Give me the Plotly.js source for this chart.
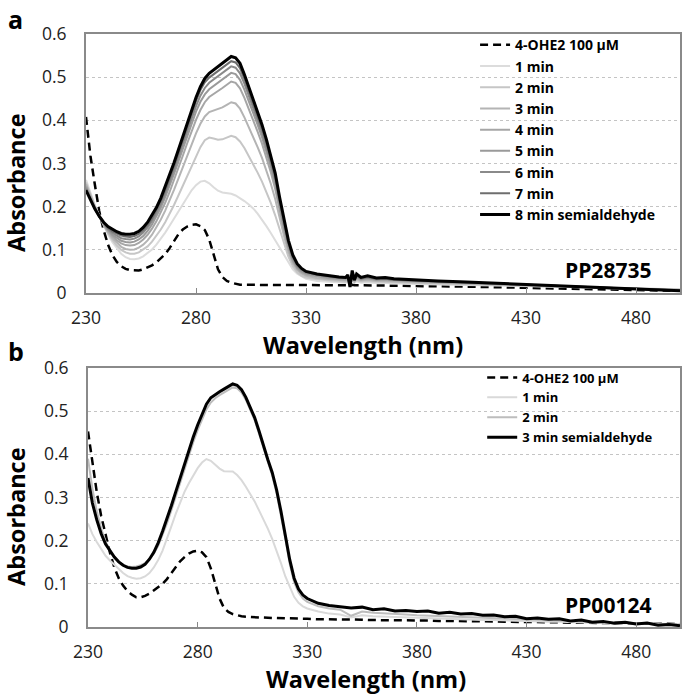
<!DOCTYPE html>
<html>
<head>
<meta charset="utf-8">
<script src="https://cdn.plot.ly/plotly-3.0.1.min.js"></script>
<style>html,body{margin:0;padding:0;background:#fff;}#chart{width:685px;height:697px;}</style>
</head>
<body>
<div id="chart"></div>
<script>
// ---------- Panel a (PP28735) ----------
const waveA = [230,232,234,236,238,240,242,244,246,248,250,252,254,256,258,260,262,264,266,268,270,272,274,276,278,280,282,284,286,288,290,292,294,296,298,300,302,304,306,308,310,312,314,316,318,320,322,324,326,328,330,
  335,340,345,348,349,350,351,352,353,355,358,362,366,370,380,390,400,410,420,430,440,450,460,470,480,490,500];

const a_ohe2 = [0.408,0.318,0.252,0.190,0.146,0.112,0.088,0.072,0.062,0.056,0.053,0.052,0.052,0.055,0.059,0.064,0.071,0.080,0.090,0.104,0.121,0.136,0.147,0.154,0.158,0.159,0.155,0.146,0.124,0.090,0.055,0.037,0.028,0.024,0.021,0.019,0.019,0.019,0.019,0.019,0.019,0.019,0.018,0.018,0.018,0.018,0.018,0.018,0.018,0.018,0.018,
  0.018,0.018,0.018,0.018,0.018,0.017,0.019,0.018,0.018,0.018,0.018,0.017,0.017,0.017,0.016,0.016,0.015,0.014,0.013,0.012,0.011,0.010,0.009,0.008,0.007,0.006,0.005];

const a_1min = [0.262,0.232,0.204,0.179,0.156,0.136,0.118,0.103,0.091,0.083,0.079,0.078,0.080,0.085,0.092,0.101,0.112,0.125,0.140,0.156,0.173,0.190,0.207,0.223,0.238,0.250,0.258,0.260,0.254,0.245,0.237,0.233,0.232,0.230,0.226,0.220,0.213,0.205,0.196,0.184,0.170,0.155,0.139,0.122,0.104,0.086,0.069,0.055,0.045,0.038,0.033,
  0.028,0.026,0.025,0.024,0.026,0.020,0.030,0.024,0.027,0.024,0.025,0.023,0.023,0.022,0.021,0.020,0.019,0.018,0.017,0.016,0.015,0.014,0.013,0.012,0.011,0.010,0.009];

const a_2min = [0.256,0.228,0.202,0.179,0.158,0.139,0.123,0.110,0.100,0.094,0.091,0.091,0.094,0.100,0.108,0.119,0.132,0.147,0.164,0.183,0.204,0.226,0.249,0.273,0.296,0.318,0.338,0.354,0.360,0.358,0.355,0.356,0.360,0.364,0.361,0.351,0.336,0.318,0.299,0.279,0.258,0.235,0.209,0.180,0.146,0.113,0.084,0.062,0.048,0.040,0.036,
  0.032,0.029,0.027,0.026,0.029,0.019,0.034,0.025,0.030,0.027,0.028,0.026,0.026,0.025,0.023,0.022,0.021,0.019,0.018,0.017,0.015,0.014,0.013,0.012,0.011,0.010,0.008];

const a_3min = [0.252,0.225,0.200,0.178,0.158,0.141,0.127,0.116,0.107,0.102,0.100,0.101,0.105,0.112,0.122,0.135,0.151,0.170,0.191,0.214,0.239,0.265,0.292,0.319,0.345,0.370,0.392,0.409,0.419,0.423,0.426,0.430,0.436,0.442,0.439,0.427,0.407,0.385,0.362,0.338,0.313,0.285,0.253,0.218,0.174,0.132,0.095,0.069,0.054,0.045,0.040,
  0.035,0.032,0.030,0.029,0.033,0.018,0.038,0.027,0.033,0.029,0.031,0.028,0.028,0.027,0.025,0.024,0.022,0.021,0.019,0.018,0.016,0.014,0.013,0.011,0.010,0.009,0.007];

const a_4min = [0.248,0.222,0.198,0.177,0.159,0.144,0.132,0.122,0.115,0.111,0.110,0.111,0.116,0.124,0.135,0.149,0.166,0.186,0.209,0.234,0.261,0.289,0.318,0.347,0.375,0.401,0.424,0.442,0.454,0.462,0.468,0.475,0.483,0.490,0.487,0.474,0.452,0.427,0.401,0.374,0.346,0.315,0.280,0.241,0.191,0.144,0.103,0.074,0.057,0.048,0.043,
  0.038,0.034,0.032,0.031,0.035,0.017,0.042,0.028,0.036,0.031,0.033,0.030,0.030,0.029,0.027,0.025,0.023,0.022,0.020,0.018,0.016,0.015,0.013,0.011,0.010,0.008,0.007];

const a_5min = [0.245,0.220,0.197,0.177,0.160,0.146,0.135,0.127,0.121,0.118,0.117,0.119,0.124,0.132,0.144,0.159,0.177,0.198,0.222,0.248,0.276,0.305,0.335,0.364,0.393,0.420,0.443,0.460,0.472,0.480,0.487,0.494,0.502,0.510,0.507,0.494,0.471,0.445,0.418,0.390,0.361,0.329,0.293,0.253,0.200,0.151,0.108,0.077,0.059,0.050,0.045,
  0.040,0.036,0.034,0.033,0.037,0.016,0.045,0.029,0.038,0.032,0.035,0.031,0.032,0.030,0.028,0.026,0.024,0.022,0.020,0.018,0.016,0.015,0.013,0.011,0.009,0.008,0.006];

const a_6min = [0.242,0.218,0.196,0.177,0.161,0.148,0.139,0.132,0.127,0.125,0.124,0.126,0.131,0.140,0.152,0.167,0.185,0.206,0.230,0.257,0.286,0.316,0.346,0.376,0.405,0.433,0.457,0.475,0.487,0.495,0.502,0.509,0.517,0.525,0.522,0.509,0.485,0.458,0.430,0.401,0.372,0.339,0.302,0.262,0.208,0.157,0.113,0.081,0.062,0.053,0.047,
  0.042,0.038,0.035,0.034,0.039,0.015,0.047,0.029,0.040,0.033,0.036,0.032,0.033,0.031,0.029,0.027,0.025,0.023,0.021,0.019,0.017,0.015,0.013,0.011,0.009,0.007,0.006];

const a_7min = [0.240,0.217,0.196,0.178,0.163,0.151,0.143,0.137,0.133,0.131,0.130,0.132,0.137,0.146,0.158,0.173,0.192,0.213,0.238,0.265,0.294,0.324,0.355,0.386,0.416,0.445,0.470,0.488,0.499,0.507,0.514,0.521,0.529,0.537,0.534,0.521,0.496,0.468,0.440,0.411,0.381,0.348,0.310,0.270,0.215,0.163,0.117,0.084,0.065,0.055,0.049,
  0.043,0.039,0.036,0.035,0.040,0.018,0.048,0.030,0.040,0.034,0.037,0.033,0.033,0.031,0.029,0.027,0.025,0.023,0.021,0.019,0.017,0.015,0.013,0.011,0.009,0.007,0.006];

const a_8min = [0.238,0.215,0.195,0.178,0.164,0.154,0.147,0.142,0.138,0.136,0.136,0.138,0.143,0.152,0.164,0.180,0.198,0.220,0.246,0.273,0.302,0.332,0.363,0.394,0.424,0.453,0.478,0.497,0.509,0.517,0.524,0.532,0.540,0.548,0.545,0.532,0.506,0.478,0.450,0.420,0.390,0.356,0.318,0.278,0.222,0.170,0.122,0.088,0.068,0.057,0.050,
  0.044,0.040,0.037,0.036,0.042,0.014,0.052,0.030,0.044,0.036,0.040,0.035,0.036,0.033,0.030,0.028,0.026,0.024,0.022,0.019,0.017,0.015,0.013,0.011,0.009,0.007,0.005];

// ---------- Panel b (PP00124) ----------
const waveB = [230,232,234,236,238,240,242,244,246,248,250,252,254,256,258,260,262,264,266,268,270,272,274,276,278,280,282,284,286,288,290,292,294,296,298,300,302,304,306,308,310,312,314,316,318,320,322,324,326,328,330,
  335,340,345,350,355,360,365,370,375,380,385,390,395,400,405,410,415,420,425,430,435,440,445,450,455,460,465,470,475,480,485,490,495,500];

const b_ohe2 = [0.453,0.380,0.312,0.257,0.212,0.172,0.138,0.113,0.096,0.083,0.075,0.069,0.069,0.072,0.077,0.084,0.091,0.100,0.111,0.125,0.139,0.152,0.162,0.170,0.175,0.177,0.173,0.162,0.136,0.100,0.066,0.044,0.035,0.030,0.027,0.025,0.024,0.023,0.023,0.022,0.022,0.021,0.021,0.021,0.020,0.020,0.020,0.020,0.019,0.019,0.019,
  0.018,0.018,0.017,0.017,0.017,0.016,0.016,0.016,0.015,0.015,0.015,0.014,0.014,0.014,0.013,0.013,0.013,0.012,0.012,0.012,0.011,0.011,0.011,0.010,0.010,0.010,0.009,0.009,0.009,0.008,0.008,0.008,0.007,0.007];

const b_1min = [0.240,0.215,0.197,0.180,0.165,0.154,0.144,0.134,0.125,0.118,0.114,0.112,0.113,0.117,0.125,0.138,0.155,0.177,0.203,0.233,0.262,0.290,0.313,0.333,0.352,0.368,0.381,0.389,0.385,0.376,0.367,0.361,0.360,0.360,0.352,0.340,0.325,0.309,0.291,0.270,0.250,0.228,0.204,0.178,0.148,0.117,0.092,0.070,0.056,0.048,0.043,
  0.036,0.031,0.029,0.022,0.027,0.025,0.024,0.023,0.022,0.021,0.020,0.019,0.019,0.018,0.017,0.016,0.016,0.015,0.014,0.014,0.013,0.012,0.012,0.011,0.011,0.010,0.010,0.009,0.009,0.008,0.008,0.007,0.007,0.006];

const b_2min = [0.390,0.320,0.268,0.228,0.198,0.177,0.162,0.151,0.144,0.140,0.139,0.140,0.143,0.148,0.157,0.170,0.188,0.212,0.240,0.270,0.302,0.334,0.366,0.398,0.428,0.456,0.482,0.504,0.520,0.530,0.537,0.543,0.550,0.555,0.553,0.543,0.526,0.504,0.479,0.448,0.414,0.382,0.351,0.310,0.259,0.204,0.146,0.104,0.080,0.066,0.058,
  0.048,0.043,0.040,0.026,0.036,0.033,0.032,0.030,0.029,0.027,0.026,0.025,0.024,0.023,0.022,0.021,0.020,0.019,0.018,0.017,0.016,0.015,0.014,0.013,0.012,0.011,0.011,0.010,0.009,0.009,0.008,0.007,0.007,0.006];

const b_3min = [0.345,0.287,0.248,0.216,0.192,0.176,0.162,0.151,0.143,0.138,0.136,0.136,0.139,0.145,0.157,0.173,0.195,0.222,0.250,0.281,0.313,0.345,0.378,0.410,0.440,0.468,0.494,0.516,0.531,0.539,0.545,0.551,0.558,0.563,0.560,0.550,0.532,0.510,0.485,0.454,0.420,0.388,0.358,0.318,0.268,0.214,0.156,0.113,0.088,0.074,0.066,
  0.055,0.050,0.047,0.044,0.046,0.040,0.042,0.037,0.038,0.036,0.037,0.032,0.034,0.030,0.031,0.027,0.028,0.024,0.025,0.019,0.021,0.018,0.019,0.014,0.016,0.011,0.013,0.009,0.011,0.007,0.009,0.004,0.006,0.003];

const xTicks = [230,280,330,380,430,480];
const yTicks = [0,0.1,0.2,0.3,0.4,0.5,0.6];

const seriesA = [
  {name:'4-OHE2 100 µM', y:a_ohe2, color:'#000000', width:2.5, dash:'8px,5px'},
  {name:'1 min', y:a_1min, color:'#dcdcdc', width:2, dash:'solid'},
  {name:'2 min', y:a_2min, color:'#c6c6c6', width:2, dash:'solid'},
  {name:'3 min', y:a_3min, color:'#b4b4b4', width:2, dash:'solid'},
  {name:'4 min', y:a_4min, color:'#a6a6a6', width:2, dash:'solid'},
  {name:'5 min', y:a_5min, color:'#9a9a9a', width:2, dash:'solid'},
  {name:'6 min', y:a_6min, color:'#8a8a8a', width:2, dash:'solid'},
  {name:'7 min', y:a_7min, color:'#6e6e6e', width:2, dash:'solid'},
  {name:'8 min semialdehyde', y:a_8min, color:'#000000', width:3, dash:'solid'}
];
const seriesB = [
  {name:'4-OHE2 100 µM', y:b_ohe2, color:'#000000', width:2.5, dash:'8px,5px'},
  {name:'1 min', y:b_1min, color:'#d9d9d9', width:2, dash:'solid'},
  {name:'2 min', y:b_2min, color:'#bdbdbd', width:2, dash:'solid'},
  {name:'3 min semialdehyde', y:b_3min, color:'#000000', width:3, dash:'solid'}
];

const traces = [];
seriesA.forEach(s => traces.push({x:waveA, y:s.y, name:s.name, type:'scatter', mode:'lines',
  line:{color:s.color, width:s.width, dash:s.dash}, xaxis:'x', yaxis:'y', legend:'legend'}));
seriesB.forEach(s => traces.push({x:waveB, y:s.y, name:s.name, type:'scatter', mode:'lines',
  line:{color:s.color, width:s.width, dash:s.dash}, xaxis:'x2', yaxis:'y2', legend:'legend2'}));

const FONT = '"Open Sans", Lato, sans-serif';
const xBase = {range:[230,500], tickvals:xTicks, ticks:'inside', ticklen:5, tickwidth:1, tickcolor:'#888',
  showline:true, linecolor:'#8a8a8a', linewidth:2, mirror:true, showgrid:false, zeroline:false,
  tickfont:{size:17.5, color:'#222', family:FONT}, ticklabelstandoff:8, fixedrange:true};
const yBase = {range:[0,0.6], tickvals:yTicks, ticks:'', showline:true, linecolor:'#8a8a8a', linewidth:2, mirror:true,
  showgrid:true, gridcolor:'#c4c4c4', gridwidth:1, griddash:'dot', zeroline:false,
  tickfont:{size:17.5, color:'#222', family:FONT}, ticklabelstandoff:14, fixedrange:true};

const titleFont = {family:FONT, size:23.5, color:'#000', weight:700};
const legendFont = {family:FONT, color:'#000', weight:700};

const layout = {
  width:685, height:697,
  margin:{l:86, r:5, t:34, b:70},
  paper_bgcolor:'#fff', plot_bgcolor:'#fff',
  font:{family:FONT, color:'#222'},
  showlegend:true,
  xaxis: Object.assign({}, xBase, {domain:[0,1], anchor:'y'}),
  yaxis: Object.assign({}, yBase, {domain:[0.5632,1], anchor:'x'}),
  xaxis2: Object.assign({}, xBase, {domain:[0.0034,1], anchor:'y2'}),
  yaxis2: Object.assign({}, yBase, {domain:[0,0.4368], anchor:'x2'}),
  legend:{x:0.655, y:1.008, xanchor:'left', yanchor:'top', bgcolor:'rgba(0,0,0,0)', borderwidth:0,
    font:Object.assign({size:14}, legendFont), tracegroupgap:0},
  legend2:{x:0.667, y:0.446, xanchor:'left', yanchor:'top', bgcolor:'rgba(0,0,0,0)', borderwidth:0,
    font:Object.assign({size:13}, legendFont), tracegroupgap:0},
  annotations:[
    {text:'a', xref:'paper', yref:'paper', x:-0.118, y:1.0573, xanchor:'center', yanchor:'top', showarrow:false, font:{family:FONT, size:25, color:'#000', weight:700}},
    {text:'b', xref:'paper', yref:'paper', x:-0.118, y:0.4975, xanchor:'center', yanchor:'top', showarrow:false, font:{family:FONT, size:25, color:'#000', weight:700}},
    {text:'Absorbance', xref:'paper', yref:'paper', x:-0.118, y:0.7487, textangle:-90, xanchor:'center', yanchor:'middle', showarrow:false, font:titleFont},
    {text:'Absorbance', xref:'paper', yref:'paper', x:-0.118, y:0.1855, textangle:-90, xanchor:'center', yanchor:'middle', showarrow:false, font:titleFont},
    {text:'Wavelength (nm)', xref:'paper', yref:'paper', x:0.4663, y:0.4756, xanchor:'center', yanchor:'middle', showarrow:false, font:titleFont},
    {text:'Wavelength (nm)', xref:'paper', yref:'paper', x:0.4722, y:-0.0877, xanchor:'center', yanchor:'middle', showarrow:false, font:titleFont},
    {text:'PP28735', xref:'paper', yref:'paper', x:0.9545, y:0.602, xanchor:'right', yanchor:'middle', showarrow:false, font:{family:FONT, size:21, color:'#000', weight:700}},
    {text:'PP00124', xref:'paper', yref:'paper', x:0.9545, y:0.0371, xanchor:'right', yanchor:'middle', showarrow:false, font:{family:FONT, size:21, color:'#000', weight:700}}
  ]
};

Plotly.newPlot('chart', traces, layout, {staticPlot:true, displayModeBar:false});
</script>
</body>
</html>
